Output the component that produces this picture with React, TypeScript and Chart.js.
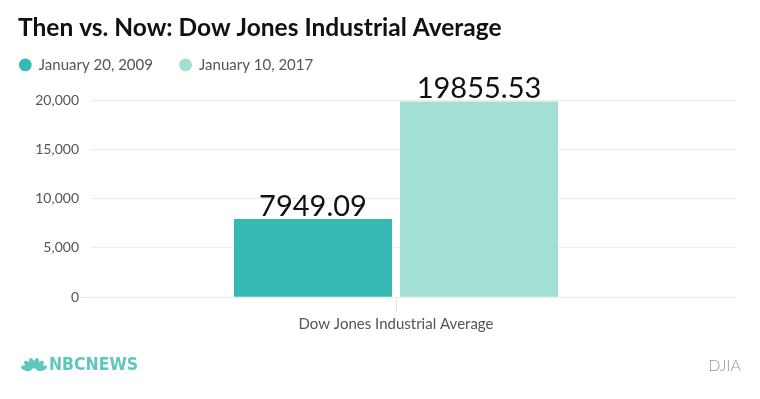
import React, { useEffect, useRef } from 'react';
import { Chart, registerables } from 'chart.js';

Chart.register(...registerables);

const chartTitle = 'Then vs. Now: Dow Jones Industrial Average';
const categories = ['Dow Jones Industrial Average'];
const seriesLabels = ['January 20, 2009', 'January 10, 2017'];
const values2009 = [7949.09];
const values2017 = [19855.53];
const yTickValues = [0, 5000, 10000, 15000, 20000];
const sourceText = 'DJIA';
const brandText = 'NBCNEWS';

const TEAL = '#36b8b5';
const MINT = '#a2dfd4';
const FONT = 'Lato, "Open Sans", sans-serif';

const legendShiftPlugin = {
  id: 'legendShift',
  afterLayout(chart: any) {
    const lg = chart.legend;
    if (!lg) return;
    lg.left -= 25.3;
    lg.right -= 25.3;
    lg.top -= 17.6;
    lg.bottom -= 17.6;
  },
};

const valueLabelPlugin = {
  id: 'valueLabels',
  afterDatasetsDraw(chart: any) {
    const ctx = chart.ctx;
    ctx.save();
    ctx.font = `29px ${FONT}`;
    ctx.fillStyle = '#111';
    ctx.textAlign = 'center';
    ctx.textBaseline = 'alphabetic';
    chart.data.datasets.forEach((ds: any, di: number) => {
      const meta = chart.getDatasetMeta(di);
      meta.data.forEach((bar: any, i: number) => {
        const v = ds.data[i].y;
        ctx.fillText(v.toFixed(2), bar.x, bar.y - 3);
      });
    });
    ctx.restore();
  },
};

const footerPlugin = {
  id: 'footer',
  afterDraw(chart: any) {
    const ctx = chart.ctx;
    const h = chart.height;
    const w = chart.width;
    ctx.save();
    ctx.font = `300 16px ${FONT}`;
    ctx.fillStyle = '#999';
    ctx.textAlign = 'right';
    ctx.textBaseline = 'alphabetic';
    ctx.fillText(sourceText, w - 19, h - 28);
    // brand logo: peacock fan + wordmark
    const cx = 34;
    const cy = h - 29;
    ctx.fillStyle = '#5ec8bf';
    for (let k = 0; k < 6; k++) {
      const a = Math.PI + (Math.PI * (k + 0.5)) / 6;
      ctx.beginPath();
      ctx.ellipse(cx + Math.cos(a) * 8, cy + Math.sin(a) * 7, 5.5, 2.6, a, 0, Math.PI * 2);
      ctx.fill();
    }
    ctx.font = `bold 18px "Liberation Sans Narrow", "DejaVu Sans Condensed", sans-serif`;
    ctx.textAlign = 'left';
    const tw = ctx.measureText(brandText).width;
    ctx.save();
    ctx.translate(49, h - 29);
    ctx.scale(89 / tw, 1);
    ctx.fillText(brandText, 0, 0);
    ctx.restore();
    ctx.restore();
  },
};

export default function App() {
  const canvasRef = useRef<HTMLCanvasElement | null>(null);

  useEffect(() => {
    document.body.style.margin = '0';
    const canvas = canvasRef.current;
    if (!canvas) return;
    const chart = new Chart(canvas, {
      type: 'bar',
      data: {
        datasets: [
          {
            label: seriesLabels[0],
            data: values2009.map((v, i) => ({ x: i, y: v })),
            backgroundColor: TEAL,
            borderWidth: 0,
          },
          {
            label: seriesLabels[1],
            data: values2017.map((v, i) => ({ x: i, y: v })),
            backgroundColor: MINT,
            borderWidth: 0,
          },
        ],
      },
      options: {
        animation: false,
        responsive: true,
        maintainAspectRatio: false,
        categoryPercentage: 332 / 645,
        barPercentage: 158 / 166,
        layout: { padding: { left: 18, right: 24, top: 0, bottom: 62.7 } },
        plugins: {
          title: {
            display: true,
            text: chartTitle,
            align: 'start',
            color: '#111',
            font: { family: FONT, size: 24.5, weight: 'bold' },
            padding: { top: 13.3, bottom: 5.7 },
          },
          legend: {
            display: true,
            align: 'start',
            labels: {
              usePointStyle: true,
              pointStyle: 'circle',
              boxWidth: 12,
              boxHeight: 9,
              color: '#555',
              font: { family: FONT, size: 15 },
              padding: 26.6,
            },
          },
          tooltip: { enabled: false },
        },
        scales: {
          x: {
            type: 'linear',
            offset: false,
            min: -0.5,
            max: 0.55737,
            afterBuildTicks: (scale: any) => {
              scale.ticks = categories.map((_, i) => ({ value: i }));
            },
            ticks: {
              autoSkip: false,
              maxRotation: 0,
              padding: 3,
              color: '#555',
              font: { family: FONT, size: 15 },
              callback: (value: any) => categories[value as number] ?? '',
            },
            grid: {
              offset: false,
              drawOnChartArea: false,
              drawTicks: true,
              tickLength: 15,
              color: '#e3e3e3',
            },
            border: { display: false },
          },
          y: {
            min: 0,
            max: 20000,
            afterBuildTicks: (scale: any) => {
              scale.ticks = yTickValues.map((v) => ({ value: v }));
            },
            afterFit: (scale: any) => {
              scale.width = 73;
            },
            ticks: {
              padding: 1,
              color: '#555',
              font: { family: FONT, size: 14 },
              callback: (value: any) => Number(value).toLocaleString('en-US'),
            },
            grid: {
              color: '#ececec',
              tickLength: 11,
              tickColor: (ctx: any) => (ctx.tick && ctx.tick.value === 0 ? '#e6e6e6' : 'rgba(0,0,0,0)'),
            },
            border: { display: false },
          },
        },
      },
      plugins: [legendShiftPlugin, valueLabelPlugin, footerPlugin],
    });
    return () => chart.destroy();
  }, []);

  return (
    <div style={{ width: 760, height: 399, position: 'relative', background: '#fff' }}>
      <canvas ref={canvasRef} />
    </div>
  );
}
